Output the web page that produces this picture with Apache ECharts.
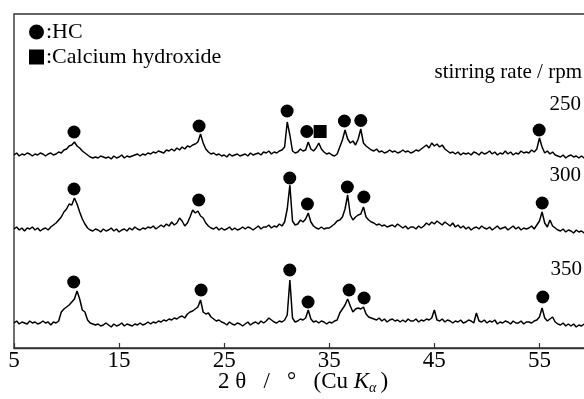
<!DOCTYPE html>
<html><head><meta charset="utf-8">
<script src="https://cdn.jsdelivr.net/npm/echarts@6/dist/echarts.min.js"></script>
<style>html,body{margin:0;padding:0;background:#fff}#c{width:584px;height:399px}</style>
</head><body><div id="c"></div>
<script>
// 2θ sampling of the patterns (degrees)
const angleStart = 5, angleStep = 0.25;
// stirring rates (rpm), one pattern each
const rates = ['250', '300', '350'];
// vertical offset of each stacked pattern (intensity units)
const offsets = [193, 119, 25];
// intensities above each pattern's baseline, 5.00° … 59.50° in 0.25° steps
const i250 = [
  0,2,-1,1, 0,2,1,-1, 1,0,2,1, -1,1,2,0, 1,3,2,5, 6,9,10,13, 9,7,4,2,
  0,-2,-3,-2, -3,-1,-2,-3, -2,-4,-1,-3, -2,0,-3,-1, -2,-1,0,1, -1,1,0,2,
  1,3,2,4, 3,2,5,4, 6,4,7,5, 8,6,9,8, 10,11,13,21, 12,6,3,1, 2,0,1,-1,
  0,-2,1,-1, 0,1,-1,0, 1,-1,2,0, 1,2,0,3, 2,4,1,3, 2,4,5,8, 33,20,4,2,
  3,6,4,5, 13,6,4,7, 12,6,3,1, 2,0,-1,1, 8,15,25,16, 12,14,10,16, 26,12,9,7,
  5,4,6,3, 4,2,3,5, 3,4,2,3, 5,3,4,2, 3,5,4,6, 8,10,7,12, 9,11,8,10,
  6,4,2,3, 1,3,0,2, 1,2,0,3, 2,0,3,1, 2,4,1,3, 0,2,1,4, 1,3,0,2,
  1,4,2,3, 2,5,3,6, 17,8,2,4, 1,3,0,-1, -2,0,-3,-1, 0,-2,-1,-3, -1,-3,-2
];
const i300 = [
  0,2,-1,1, -2,1,0,2, -1,1,-2,0, 1,-1,2,4, 6,9,12,17, 20,25,24,31, 25,17,10,5,
  1,-1,-2,0, -1,-3,0,-2, -1,1,-2,0, -3,-1,0,-2, 1,-1,2,0, -1,1,0,2,
  1,3,0,2, 4,2,5,3, 7,4,6,11, 8,3,6,12, 19,16,18,13, 11,6,3,1, 0,2,-1,1,
  -1,0,2,-1, 1,-1,0,2, 0,2,1,-1, 1,3,0,2, 2,4,1,3, 2,5,3,7, 20,44,8,4,
  5,9,7,10, 16,7,3,1, 0,2,0,1, 1,3,5,8, 9,12,20,34, 14,9,12,14, 15,22,12,9,
  7,6,4,5, 3,4,2,3, 4,2,5,3, 1,3,0,2, 2,0,3,1, 3,6,4,7, 5,8,6,4,
  7,5,3,6, 2,4,1,3, 0,2,-1,1, 2,0,3,1, 0,2,-1,1, 3,0,1,2, -1,1,3,0,
  2,-1,1,0, 1,3,0,4, 8,17,6,2, 9,3,1,-1, -2,0,-3,-1, -2,-4,-1,-3, -2,-4,-3
];
const i350 = [
  0,2,-1,1, 0,-1,2,0, 1,-1,0,2, 0,1,-2,1, 0,2,11,14, 16,18,21,24, 32,24,13,11,
  3,0,-1,-2, -1,-3,-2,0, -2,-4,-1,-3, -2,0,-3,-1, -2,-3,-1,-2, 0,-2,-1,1,
  -1,1,0,2, 1,3,2,4, 3,5,4,6, 7,5,9,11, 12,14,16,23, 11,9,10,6, 4,2,3,1,
  0,-2,1,-1, -2,0,-1,-3, -1,1,-2,0, 1,-1,2,0, 2,5,3,1, 0,2,1,3, 8,43,5,1,
  2,4,3,5, 13,4,1,2, 0,2,1,-1, 1,0,2,3, 10,14,18,24, 17,11,14,15, 14,16,9,6,
  5,4,3,5, 2,4,1,3, 4,2,3,1, 3,1,4,2, 2,4,1,3, 2,4,3,5, 13,3,2,4,
  1,3,2,0, 2,1,3,0, 1,3,2,0, 10,2,1,3, 0,2,1,3, -1,1,0,2, 1,-1,2,0,
  0,2,-1,1, 1,0,2,3, 6,15,5,2, 4,6,1,-1, -2,0,-3,-1, -3,-1,-4,-2, -3,-1,-4
];
// peak markers [2θ, height]
const hcMarks = [
  [10.71,216],[22.61,222],[30.99,237],[32.86,216.5],[36.44,227],[38.0,227.5],[54.97,218],
  [10.71,159],[22.58,148],[31.24,170],[32.92,144],[36.72,161],[38.29,151],[55.26,145],
  [10.68,66],[22.80,58],[31.24,78],[32.98,46],[36.89,58],[38.31,50],[55.32,51]
];
const caohMarks = [[34.13,216.5]];
const xTicks = [5, 15, 25, 35, 45, 55];

const FONT = '"Liberation Serif", "Times New Roman", serif';
const patterns = [i250, i300, i350];
const lineSeries = patterns.map((arr, k) => ({
  name: rates[k] + ' rpm',
  type: 'line',
  showSymbol: false,
  silent: true,
  lineStyle: { color: '#000', width: 1.5 },
  data: arr.map((v, i) => [angleStart + i * angleStep, v + offsets[k]])
}));

const chart = echarts.init(document.getElementById('c'), null, { renderer: 'canvas' });
chart.setOption({
  animation: false,
  backgroundColor: '#fff',
  grid: { left: 14, top: 14, right: -8, bottom: 51, show: true, borderColor: '#333', borderWidth: 1.4,
          outerBoundsMode: 'none', containLabel: false },
  xAxis: {
    type: 'value', min: 5, max: 60, interval: 10,
    axisLine: { show: true, lineStyle: { color: '#333', width: 1.4 } },
    axisTick: { show: true, inside: true, length: 5, lineStyle: { color: '#333', width: 1.2 } },
    splitLine: { show: false },
    axisLabel: {
      color: '#000', fontFamily: FONT, fontSize: 23, margin: 1,
      showMaxLabel: false,
      formatter: v => (xTicks.indexOf(v) >= 0 ? String(v) : '')
    },
    name: '{n|2 θ   /   °   (Cu }{k|K}{a|α}{n|)}',
    nameLocation: 'middle', nameGap: 21, nameMoveOverlap: false,
    nameTextStyle: {
      color: '#000', fontFamily: FONT, fontSize: 23, verticalAlign: 'top',
      rich: {
        n: { fontFamily: FONT, fontSize: 23, color: '#000' },
        k: { fontFamily: FONT, fontSize: 23, fontStyle: 'italic', color: '#000' },
        a: { fontFamily: FONT, fontSize: 14, fontStyle: 'italic', color: '#000', padding: [12, 4, 0, 0] }
      }
    }
  },
  yAxis: { type: 'value', min: 0, max: 334, show: false },
  legend: {
    data: [{ name: 'HC', icon: 'circle' }, { name: 'Calcium hydroxide', icon: 'rect' }],
    orient: 'vertical', left: 24, top: 16, itemWidth: 15, itemHeight: 15, itemGap: 3,
    formatter: ':{name}', selectedMode: false,
    itemStyle: { opacity: 1 },
    textStyle: { color: '#000', fontFamily: FONT, fontSize: 22, padding: [0, 0, 0, -3] }
  },
  series: lineSeries.concat([
    { name: 'HC', type: 'scatter', symbol: 'circle', symbolSize: 13, itemStyle: { color: '#000', opacity: 1 }, data: hcMarks, z: 3 },
    { name: 'Calcium hydroxide', type: 'scatter', symbol: 'rect', symbolSize: 13, itemStyle: { color: '#000', opacity: 1 }, data: caohMarks, z: 3 }
  ]),
  graphic: [
    { type: 'text', right: 2, top: 62, style: { text: 'stirring rate / rpm', font: '21px ' + FONT, fill: '#000' } },
    { type: 'text', right: 3, top: 94, style: { text: rates[0], font: '21px ' + FONT, fill: '#000' } },
    { type: 'text', right: 3, top: 165, style: { text: rates[1], font: '21px ' + FONT, fill: '#000' } },
    { type: 'text', right: 2, top: 259, style: { text: rates[2], font: '21px ' + FONT, fill: '#000' } }
  ]
});
</script>
</body></html>
